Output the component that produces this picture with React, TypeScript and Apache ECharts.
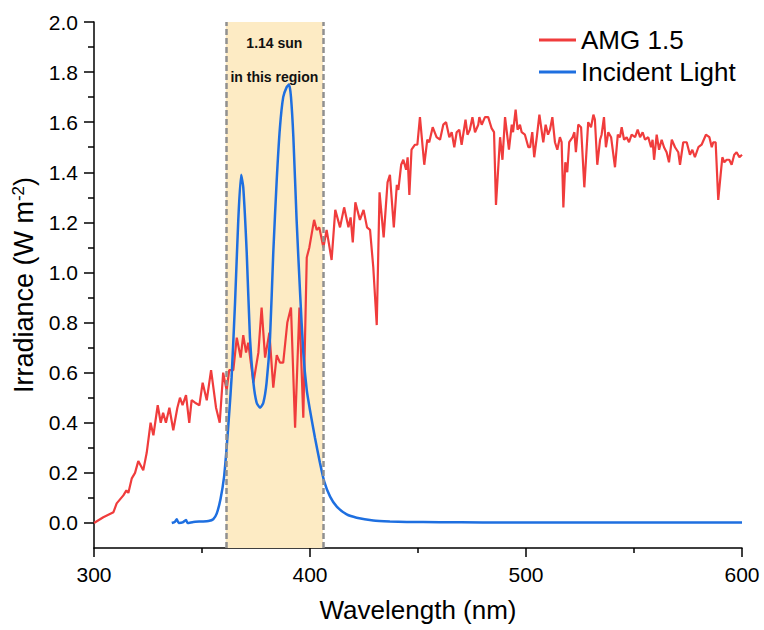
import React, { useEffect, useRef } from "react";
import * as echarts from "echarts";

const amgNm = [300, 304.3, 309, 310.5, 313.6, 315, 315.9, 317.5, 319, 320.5, 322.8, 324.4, 326.2, 327.5, 329.5, 330.9, 332, 333.3, 334.9, 336.7, 338.6, 339.8, 341, 342.6, 344.1, 345.2, 346.8, 348.8, 350.3, 352.2, 354.2, 356.5, 358.2, 359.8, 361.4, 362.6, 364.5, 366.1, 367.9, 369.1, 370.4, 371.4, 373.8, 376.1, 377.6, 379.2, 381.2, 383, 384.6, 386.1, 387.6, 389.5, 391.2, 393.1, 395.1, 396.9, 398.5, 399.7, 401.9, 403.1, 404.3, 406.2, 407.7, 410, 411.7, 413.9, 415.8, 417.8, 418.8, 419.8, 421, 423.1, 424.8, 426.4, 427.8, 429.3, 430.9, 432.2, 434.1, 435.9, 437, 438.8, 440.2, 440.9, 442.2, 443.2, 444.5, 445.2, 446, 447, 448.6, 449.7, 450.9, 452.9, 454.3, 455.2, 456.8, 458.6, 460.2, 461.7, 463, 464.5, 465.6, 466.8, 467.9, 469.1, 470.2, 472, 472.9, 474, 475.2, 476.4, 477.9, 478.4, 479.5, 481, 482.5, 484.1, 485.2, 486.1, 488, 489.1, 490.3, 492.1, 493.4, 494, 495.2, 496.1, 497.2, 498, 499.5, 501.1, 501.9, 502.9, 503.8, 505, 506.2, 508, 509.1, 510.2, 511.1, 512.2, 513.4, 514.5, 515.7, 516.5, 517.3, 518.2, 519.1, 520, 521.6, 522.4, 523.1, 524.2, 525.5, 527, 528.8, 530.1, 531.2, 531.9, 533, 534.3, 535, 536.1, 537, 538.1, 539.4, 541.2, 542.5, 543.5, 544.3, 545.4, 546.6, 547.7, 548.9, 550.5, 551.7, 552.8, 554, 555.1, 556.6, 557.9, 558.6, 559.3, 560.5, 561.6, 562.8, 563.9, 565.1, 566.2, 567.5, 569, 570.5, 571.3, 572.8, 574.4, 575.9, 577, 578.2, 579.8, 581.3, 583.3, 584.9, 586, 586.7, 587.8, 589, 590.1, 590.9, 591.8, 592.9, 594.1, 595.2, 596.4, 597.5, 598.8, 600];
const amgVal = [0, 0.023, 0.043, 0.078, 0.11, 0.13, 0.12, 0.178, 0.2, 0.247, 0.21, 0.28, 0.4, 0.35, 0.47, 0.4, 0.44, 0.4, 0.46, 0.37, 0.46, 0.5, 0.47, 0.51, 0.4, 0.49, 0.48, 0.47, 0.56, 0.49, 0.61, 0.46, 0.4, 0.6, 0.53, 0.61, 0.61, 0.74, 0.66, 0.75, 0.68, 0.72, 0.56, 0.68, 0.86, 0.66, 0.76, 0.54, 0.67, 0.64, 0.64, 0.8, 0.86, 0.38, 0.86, 0.42, 1.06, 1.1, 1.21, 1.17, 1.18, 1.1, 1.17, 1.05, 1.25, 1.18, 1.26, 1.18, 1.22, 1.12, 1.28, 1.21, 1.25, 1.18, 1.17, 1.02, 0.79, 1.32, 1.14, 1.36, 1.39, 1.18, 1.35, 1.33, 1.43, 1.45, 1.41, 1.46, 1.31, 1.49, 1.51, 1.51, 1.62, 1.43, 1.53, 1.52, 1.58, 1.54, 1.53, 1.59, 1.6, 1.54, 1.56, 1.5, 1.56, 1.57, 1.51, 1.61, 1.55, 1.57, 1.62, 1.56, 1.59, 1.62, 1.59, 1.62, 1.62, 1.575, 1.56, 1.27, 1.54, 1.45, 1.62, 1.49, 1.59, 1.56, 1.65, 1.57, 1.59, 1.56, 1.55, 1.5, 1.5, 1.56, 1.46, 1.54, 1.63, 1.52, 1.59, 1.55, 1.57, 1.62, 1.52, 1.49, 1.54, 1.52, 1.26, 1.44, 1.4, 1.52, 1.54, 1.56, 1.48, 1.59, 1.58, 1.34, 1.6, 1.58, 1.63, 1.61, 1.43, 1.53, 1.55, 1.62, 1.5, 1.56, 1.54, 1.42, 1.55, 1.54, 1.58, 1.53, 1.54, 1.52, 1.55, 1.54, 1.57, 1.54, 1.56, 1.53, 1.54, 1.5, 1.53, 1.45, 1.55, 1.49, 1.53, 1.5, 1.48, 1.44, 1.53, 1.5, 1.48, 1.43, 1.52, 1.52, 1.47, 1.49, 1.46, 1.5, 1.51, 1.55, 1.54, 1.5, 1.52, 1.52, 1.29, 1.39, 1.46, 1.44, 1.45, 1.45, 1.43, 1.47, 1.48, 1.46, 1.47];

const lightNm = [336, 337.5, 338.3, 339.2, 341, 342.6, 343.3, 346, 350, 353, 355.2, 356.8, 358.6, 360.2, 361.4, 362.7, 363.7, 365.3, 366.8, 368.1, 369.1, 370.7, 372.2, 373.8, 375.3, 376.9, 378.4, 379.9, 381.5, 383, 384.6, 386.1, 387.6, 389.2, 390.3, 391.2, 392.3, 393.8, 395.4, 396.9, 398.5, 400, 402.3, 404.6, 406.6, 409.3, 412.4, 417, 421.6, 429.3, 437, 444.8, 460, 480, 500, 530, 560, 600];
const lightVal = [0, 0.005, 0.015, 0, 0.002, 0.012, 0, 0.004, 0.006, 0.008, 0.015, 0.037, 0.097, 0.183, 0.3, 0.45, 0.58, 0.88, 1.21, 1.39, 1.34, 1.08, 0.74, 0.56, 0.48, 0.46, 0.48, 0.56, 0.74, 1.08, 1.37, 1.58, 1.7, 1.74, 1.75, 1.7, 1.54, 1.21, 0.92, 0.68, 0.53, 0.45, 0.34, 0.24, 0.165, 0.105, 0.065, 0.034, 0.021, 0.01, 0.006, 0.004, 0.003, 0.002, 0.002, 0.002, 0.002, 0.002];

const regionNm = [361, 406];
const regionLabel = ["1.14 sun", "in this region"];
const yMajorTicks = [0, 0.2, 0.4, 0.6, 0.8, 1.0, 1.2, 1.4, 1.6, 1.8, 2.0];
const yMinorTicks = [0.1, 0.3, 0.5, 0.7, 0.9, 1.1, 1.3, 1.5, 1.7, 1.9];

const FONT = "'Liberation Sans', Arial, sans-serif";

export default function App() {
  const ref = useRef<HTMLDivElement>(null);
  useEffect(() => {
    if (!ref.current) return;
    const chart = echarts.init(ref.current, undefined, { renderer: "svg" });
    const amg = amgNm.map((x, i) => [x, amgVal[i]]);
    const light = lightNm.map((x, i) => [x, lightVal[i]]);
    chart.setOption({
      animation: false,
      backgroundColor: "#fff",
      textStyle: { fontFamily: FONT },
      grid: { left: 94, right: 22, top: 22, bottom: 82, containLabel: false },
      legend: {
        orient: "vertical",
        left: 534,
        top: 22,
        itemWidth: 37,
        itemHeight: 3,
        itemGap: 6,
        icon: "rect",
        textStyle: { fontSize: 26, color: "#000", fontFamily: FONT, padding: [0, 0, 0, 0] },
        data: ["AMG 1.5", "Incident Light"],
      },
      xAxis: {
        type: "value",
        min: 300,
        max: 600,
        interval: 100,
        name: "Wavelength (nm)",
        nameLocation: "middle",
        nameGap: 49,
        nameTextStyle: { fontSize: 26, color: "#000", fontFamily: FONT },
        axisLine: { show: true, onZero: false, lineStyle: { color: "#000", width: 1.5 } },
        axisTick: { show: true, inside: false, length: 9, lineStyle: { color: "#000", width: 1.5 } },
        minorTick: { show: true, splitNumber: 2, length: 5, lineStyle: { color: "#000", width: 1.5 } },
        axisLabel: { fontSize: 21, color: "#000", margin: 16, fontFamily: FONT },
        splitLine: { show: false },
      },
      yAxis: [
        {
          type: "value",
          min: -0.1,
          max: 2.0,
          position: "left",
          name: "{a|Irradiance (W m}{s|-2}{a|)}",
          nameLocation: "middle",
          nameGap: 52,
          nameTextStyle: {
            fontFamily: FONT,
            color: "#000",
            rich: {
              a: { fontSize: 27, color: "#000", fontFamily: FONT },
              s: { fontSize: 17, color: "#000", fontFamily: FONT, verticalAlign: "top", padding: [0, 0, 12, 0] },
            },
          },
          axisLine: { show: true, onZero: false, lineStyle: { color: "#000", width: 1.5 } },
          axisTick: { show: true, inside: false, length: 10, customValues: yMajorTicks, lineStyle: { color: "#000", width: 1.5 } },
          axisLabel: {
            fontSize: 21,
            color: "#000",
            margin: 16,
            fontFamily: FONT,
            customValues: yMajorTicks,
            formatter: (v: number) => v.toFixed(1),
          },
          splitLine: { show: false },
        },
        {
          type: "value",
          min: -0.1,
          max: 2.0,
          position: "left",
          axisLine: { show: false },
          axisTick: { show: true, inside: false, length: 6, customValues: yMinorTicks, lineStyle: { color: "#000", width: 1.5 } },
          axisLabel: { show: false },
          splitLine: { show: false },
        },
      ],
      series: [
        {
          name: "AMG 1.5",
          type: "line",
          data: amg,
          symbol: "none",
          color: "#F03C3C",
          lineStyle: { color: "#F03C3C", width: 2.2 },
          z: 3,
          markArea: {
            silent: true,
            itemStyle: { color: "#FDEBC4" },
            label: {
              show: true,
              position: "insideTop",
              distance: 4,
              formatter: regionLabel.join("\n"),
              fontSize: 14,
              fontWeight: "bold",
              color: "#111",
              fontFamily: FONT,
              lineHeight: 34,
            },
            data: [[{ xAxis: regionNm[0] }, { xAxis: regionNm[1] }]],
          },
          markLine: {
            silent: true,
            symbol: "none",
            label: { show: false },
            lineStyle: { color: "#909090", type: [6, 3], width: 2.5 },
            data: regionNm.map((x) => ({ xAxis: x })),
          },
        },
        {
          name: "Incident Light",
          type: "line",
          data: light,
          symbol: "none",
          smooth: 0.2,
          color: "#1E6FE0",
          lineStyle: { color: "#1E6FE0", width: 2.5 },
          z: 4,
        },
      ],
    });
    return () => chart.dispose();
  }, []);
  return (
    <div
      ref={ref}
      style={{ width: 764, height: 630, position: "absolute", left: 0, top: 0 }}
    />
  );
}
